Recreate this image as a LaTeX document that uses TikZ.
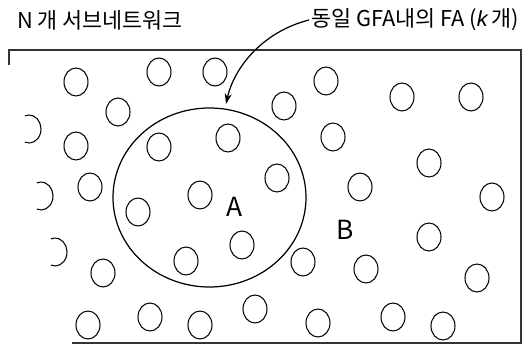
\documentclass[tikz,border=0pt]{standalone}
\usepackage{fontspec}
\setmainfont{Noto Sans CJK KR}
\newfontfamily\latinsans{Liberation Sans}
\usetikzlibrary{arrows.meta}

\begin{document}
\begin{tikzpicture}[
    x=0.02cm, y=-0.02cm,
    every node/.style={font=\fontsize{12.4}{14}\selectfont, inner sep=1pt},
    cell/.style={line width=0.6pt},
    >={Stealth[length=6pt, width=4pt]},
]
\useasboundingbox (0,0) rectangle (522,345);

% === Network area (open at lower left) ===
\draw[line width=0.7pt, black!80] (9,65) -- (9,50) -- (521,50) -- (521,343) -- (72,343);

% === Subnetworks ===
\foreach \cx/\cy in {76/82, 159/72, 215/72, 326/81, 284/106, 402/97, 471/97, 118/112,
    159/147, 228/138, 138/212, 200/195, 242/245, 186/261, 277/178,
    76/146, 90/187, 103/273, 88/325, 150/317, 200/325, 255/309,
    333/137, 360/187, 429/163, 492/197, 429/237, 303/262, 366/269,
    477/278, 318/323, 393/317, 443/326}
  \draw[cell] (\cx,\cy) ellipse [x radius=12, y radius=14];

% cut-off ones at the left edge
\foreach \cx/\cy in {29/129, 41/196, 55/252}
  \draw[cell] ([shift={(110:12 and 14)}]\cx,\cy) arc[start angle=110, end angle=-110, x radius=12, y radius=14];

% === FA group of the same GFA ===
\draw[line width=0.7pt] (209.5,197.5) ellipse [x radius=96.5, y radius=89.5];
\node[font=\fontsize{15}{17}\selectfont] (regA) at (235,207) {A};
\node[font=\fontsize{15}{17}\selectfont] (regB) at (345,230) {B};

% === Labels ===
\node[anchor=west] (subnet) at (15,20) {N 개 서브네트워크};
\node[anchor=east] (fa) at (521,20) {동일 GFA내의 FA ({\latinsans\itshape k}\,개)};
\coordinate (fatip) at (226,104);
\draw[->, line width=0.7pt] (fa.west) .. controls (262,32) and (234,68) .. (fatip);

\end{tikzpicture}
\end{document}
